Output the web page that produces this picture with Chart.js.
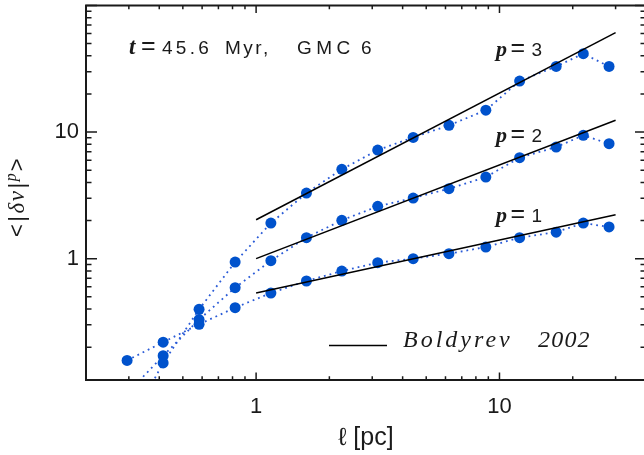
<!DOCTYPE html>
<html><head><meta charset="utf-8">
<script src="https://cdn.jsdelivr.net/npm/chart.js@4/dist/chart.umd.min.js"></script>
<style>
html,body{margin:0;padding:0;background:#fff;overflow:hidden;width:644px;height:455px}
#wrap{width:660px;height:455px;position:relative}
canvas{display:block}
</style></head>
<body><div id="wrap"><canvas id="c" width="660" height="455"></canvas></div>
<script>
// ---- data ----
const lags = [0.295, 0.415, 0.583, 0.82, 1.15, 1.61, 2.25, 3.16, 4.42, 6.2, 8.79, 12.1, 17.1, 22.1, 28.2];
const sfP1 = [0.157, 0.219, 0.303, 0.41, 0.535, 0.666, 0.798, 0.93, 1.0, 1.095, 1.235, 1.465, 1.62, 1.91, 1.78];
const sfP2 = [0.086, 0.171, 0.330, 0.59, 0.964, 1.466, 2.01, 2.59, 3.01, 3.57, 4.41, 6.28, 7.62, 9.42, 8.10];
const sfP3 = [0.045, 0.150, 0.398, 0.94, 1.91, 3.30, 5.08, 7.21, 9.08, 11.3, 14.9, 25.3, 33.0, 41.6, 33.0];
const boldyrevX  = [1, 30];
const boldyrevP1 = [0.535, 2.22];
const boldyrevP2 = [1.0, 12.4];
const boldyrevP3 = [2.03, 61];
const xRange = [0.2, 40];
const yRange = [0.11, 100];
const xTickValues = [0.2,0.3,0.4,0.5,0.6,0.7,0.8,0.9,1,2,3,4,5,6,7,8,9,10,20,30,40];
const yTickValues = [0.2,0.3,0.4,0.5,0.6,0.7,0.8,0.9,1,2,3,4,5,6,7,8,9,10,20,30,40,50,60,70,80,90,100];
const xLabelValues = [1, 10];
const yLabelValues = [1, 10];
const seriesLabels = ['p=1', 'p=2', 'p=3'];
const titleText = ['t', '=', '45.6', 'Myr,', 'GMC', '6'];
const legendText = ['Boldyrev', '2002'];

const BLUE = '#0052cc', DOT = '#2a5bd7', INK = '#1a1a1a';
const pts = (xs, ys) => xs.map((x, i) => ({x, y: ys[i]}));
const sfDataset = (label, ys) => ({
  label, data: pts(lags, ys), showLine: true, borderColor: DOT, borderWidth: 1.8,
  borderDash: [1.8, 4], backgroundColor: BLUE, pointBackgroundColor: BLUE,
  pointBorderWidth: 0, pointRadius: 5.5, pointHoverRadius: 5.5, tension: 0, order: 1
});
const bdDataset = (label, ys) => ({
  label, data: pts(boldyrevX, ys), showLine: true, borderColor: '#000', borderWidth: 1.5,
  pointRadius: 0, pointHoverRadius: 0, tension: 0, order: 0
});
const isDecade = v => Math.abs(Math.log10(v) - Math.round(Math.log10(v))) < 1e-9;

function txt(ctx, s, x, y, font, spacing) {
  ctx.font = font;
  if ('letterSpacing' in ctx) ctx.letterSpacing = (spacing || 0) + 'px';
  ctx.fillText(s, x, y);
  const w = ctx.measureText(s).width;
  if ('letterSpacing' in ctx) ctx.letterSpacing = '0px';
  return w;
}

const decor = {
  id: 'decor',
  afterDraw(chart) {
    const {ctx, chartArea: {left, right, top, bottom}, scales: {x, y}} = chart;
    ctx.save();
    ctx.strokeStyle = INK; ctx.lineWidth = 1.5;
    ctx.beginPath();
    xTickValues.forEach(v => {
      const px = x.getPixelForValue(v);
      const len = isDecade(v) ? 7.5 : 3.75;
      ctx.moveTo(px, bottom); ctx.lineTo(px, bottom - len);
      ctx.moveTo(px, top); ctx.lineTo(px, top + len);
    });
    yTickValues.forEach(v => {
      const py = y.getPixelForValue(v);
      const len = isDecade(v) ? 11 : 5.5;
      ctx.moveTo(left, py); ctx.lineTo(left + len, py);
      ctx.moveTo(right, py); ctx.lineTo(right - len, py);
    });
    ctx.stroke();
    ctx.lineWidth = 2;
    ctx.strokeRect(left, top, right - left, bottom - top);

    ctx.fillStyle = INK; ctx.textBaseline = 'alphabetic'; ctx.textAlign = 'left';
    // title text
    const SANS = '19px "Liberation Sans"';
    txt(ctx, titleText[0], 129, 53.5, 'italic bold 23px "Liberation Serif"');
    txt(ctx, titleText[1], 141, 53.5, '25px "Liberation Sans"');
    txt(ctx, titleText[2], 162, 53.5, SANS, 3.3);
    txt(ctx, titleText[3], 225, 53.5, SANS, 2.5);
    txt(ctx, titleText[4], 297, 53.5, SANS, 4.5);
    txt(ctx, titleText[5], 361, 53.5, SANS, 2);
    // p labels
    const pBase = [221.5, 141.5, 56];
    seriesLabels.forEach((s, i) => {
      txt(ctx, 'p', 496, pBase[i], 'italic bold 22px "Liberation Serif"');
      txt(ctx, '=', 510.5, pBase[i], '25px "Liberation Sans"');
      txt(ctx, s.slice(2), 531.5, pBase[i], '19px "Liberation Sans"');
    });
    // legend
    ctx.strokeStyle = '#000'; ctx.lineWidth = 1.5;
    ctx.beginPath(); ctx.moveTo(329, 345.5); ctx.lineTo(387, 345.5); ctx.stroke();
    txt(ctx, legendText[0], 403, 347, 'italic 24px "Liberation Serif"', 3);
    txt(ctx, legendText[1], 538, 347, 'italic 24px "Liberation Serif"', 1.2);
    // y axis title (rotated)
    ctx.save();
    ctx.translate(24, 237);
    ctx.rotate(-Math.PI / 2);
    let cx = 0;
    cx += txt(ctx, '<', cx, 0, '22px "Liberation Sans"') + 2.5;
    cx += txt(ctx, '|', cx, 0, '22px "Liberation Sans"') + 2.5;
    cx += txt(ctx, 'δ', cx, 0, 'italic 23px "Liberation Serif"') + 1.5;
    cx += txt(ctx, 'v', cx, 0, 'italic 23px "Liberation Serif"') + 2.5;
    cx += txt(ctx, '|', cx, 0, '22px "Liberation Sans"') + 1.5;
    cx += txt(ctx, 'p', cx, -8, 'italic 16px "Liberation Serif"') + 2;
    txt(ctx, '>', cx, 0, '22px "Liberation Sans"');
    ctx.restore();
    ctx.restore();
  }
};

new Chart(document.getElementById('c'), {
  type: 'scatter',
  data: {
    datasets: [
      bdDataset('Boldyrev p=1', boldyrevP1),
      bdDataset('Boldyrev p=2', boldyrevP2),
      bdDataset('Boldyrev p=3', boldyrevP3),
      sfDataset(seriesLabels[0], sfP1),
      sfDataset(seriesLabels[1], sfP2),
      sfDataset(seriesLabels[2], sfP3)
    ]
  },
  options: {
    responsive: false, animation: false, devicePixelRatio: 1, events: [],
    layout: {padding: {left: 0, top: 5, right: 14, bottom: 0}},
    plugins: {legend: {display: false}, tooltip: {enabled: false}},
    scales: {
      x: {
        type: 'logarithmic', position: 'bottom', min: xRange[0], max: xRange[1],
        grid: {display: false, drawTicks: false}, border: {display: false},
        afterBuildTicks: s => { s.ticks = xLabelValues.map(v => ({value: v, major: true})); },
        afterFit: s => { s.height = 75; s.paddingLeft = 0; s.paddingRight = 0; s.paddingTop = 0; s.paddingBottom = 0; },
        ticks: {autoSkip: false, maxRotation: 0, padding: 14, color: INK,
                font: {family: 'Liberation Sans', size: 22}, callback: v => String(v)},
        title: {display: true, text: 'ℓ [pc]', color: INK, align: 'center',
                font: {family: 'Liberation Sans', size: 25}, padding: {top: 0, bottom: 2}}
      },
      y: {
        type: 'logarithmic', position: 'left', min: yRange[0], max: yRange[1],
        grid: {display: false, drawTicks: false}, border: {display: false},
        afterBuildTicks: s => { s.ticks = yLabelValues.map(v => ({value: v, major: true})); },
        afterFit: s => { s.width = 86; s.paddingLeft = 0; s.paddingRight = 0; s.paddingTop = 0; s.paddingBottom = 0; },
        ticks: {autoSkip: false, padding: 7, color: INK,
                font: {family: 'Liberation Sans', size: 22}, callback: v => String(v)}
      }
    }
  },
  plugins: [decor]
});
</script>
</body></html>
